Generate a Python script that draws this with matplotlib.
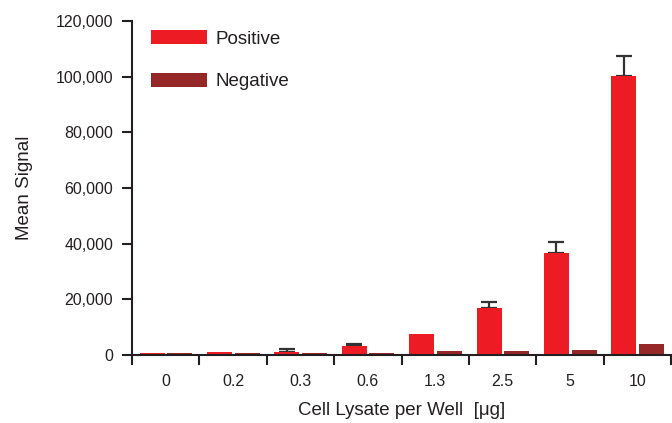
import matplotlib.pyplot as plt
import numpy as np
from matplotlib.patches import Patch

plt.rcParams['font.family'] = ['Liberation Sans', 'DejaVu Sans']

# lysate amounts per well and mean signals
doses = ['0', '0.2', '0.3', '0.6', '1.3', '2.5', '5', '10']
positive = [800, 1200, 1200, 3400, 7600, 17000, 36600, 100300]
positive_err = [0, 0, 800, 600, 0, 1900, 4000, 7000]
negative = [700, 700, 700, 700, 1500, 1500, 1900, 4000]

red = '#ed1c24'
dark_red = '#952726'
ink = '#231f20'

fig = plt.figure(figsize=(6.72, 4.23), dpi=100)
ax = fig.add_axes([132 / 672, 1 - 355 / 423, 539 / 672, 334 / 423])

x = np.arange(len(doses)) + 0.5
w = 0.37
ax.bar(x - 0.2, positive, w, color=red, zorder=2)
ax.bar(x + 0.21, negative, w, color=dark_red, zorder=2)

# upper error bars only
has_err = np.array(positive_err) > 0
ax.errorbar((x - 0.2)[has_err], np.array(positive)[has_err],
            yerr=[np.zeros(has_err.sum()), np.array(positive_err)[has_err]],
            fmt='none', ecolor='#333333', elinewidth=1.6, capsize=6, capthick=1.6, zorder=1)

ax.set_xlim(0, len(doses))
ax.set_ylim(0, 120000)
ax.set_yticks(np.arange(0, 120001, 20000))
ax.set_yticklabels([f'{v:,}' for v in range(0, 120001, 20000)])

# boundary ticks between categories, labels at centres
ax.set_xticks(np.arange(len(doses) + 1))
ax.set_xticklabels([])
ax.set_xticks(x, minor=True)
ax.set_xticklabels(doses, minor=True)
ax.tick_params(axis='x', which='minor', length=0, pad=14)
ax.tick_params(axis='both', which='major', length=7.5, width=1.5, color=ink,
               labelsize=11.5, labelcolor=ink)
ax.tick_params(axis='x', which='minor', labelsize=11.5, labelcolor=ink)
ax.tick_params(axis='y', pad=6)

for side in ['top', 'right']:
    ax.spines[side].set_visible(False)
for side in ['left', 'bottom']:
    ax.spines[side].set_linewidth(1.5)
    ax.spines[side].set_color(ink)

ax.set_xlabel('Cell Lysate per Well  [\u03bcg]', fontsize=13.5, color=ink, labelpad=9)
ax.set_ylabel('Mean Signal', fontsize=13.5, color=ink, labelpad=16)

handles = [Patch(facecolor=red, edgecolor='none'), Patch(facecolor=dark_red, edgecolor='none')]
ax.legend(handles, ['Positive', 'Negative'], loc='upper left',
          bbox_to_anchor=(151 / 672, 1 - 30 / 423), bbox_transform=fig.transFigure,
          frameon=False, fontsize=13.5, handlelength=2.98, handleheight=0.78,
          handletextpad=0.48, labelspacing=1.35, borderpad=0, borderaxespad=0,
          labelcolor=ink)

fig.savefig('out.png', dpi=100)
